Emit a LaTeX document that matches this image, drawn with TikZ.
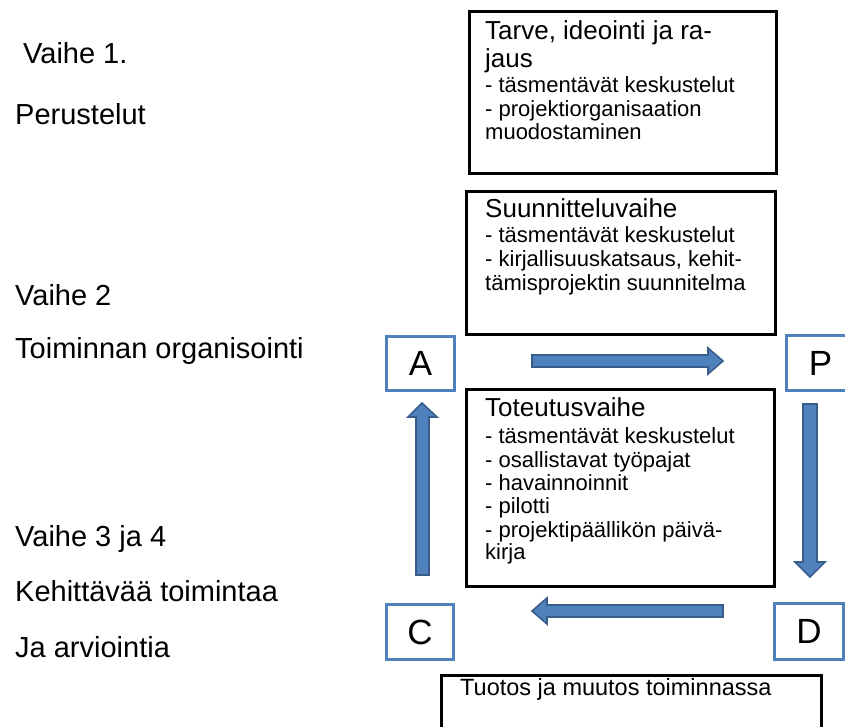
\documentclass[tikz,border=0pt]{standalone}
\usepackage{fontspec}
\setmainfont{Liberation Sans}
\definecolor{pdcablue}{HTML}{4F81BD}
\definecolor{pdcadark}{HTML}{385D8A}
\tikzset{
  side/.style={anchor=base west, inner sep=0pt, font=\fontsize{29}{31}\selectfont},
  head/.style={anchor=base west, inner sep=0pt, font=\fontsize{26}{28}\selectfont},
  body/.style={anchor=base west, inner sep=0pt, font=\fontsize{22}{24}\selectfont},
  phasebox/.style={draw=black, line width=3pt, anchor=north west, inner sep=0pt},
  letterbox/.style={draw=pdcablue, line width=3pt, anchor=north west, inner sep=0pt,
                    font=\fontsize{35}{37}\selectfont},
  blockarrow/.style={fill=pdcablue, draw=pdcadark, line width=1.6pt, line join=miter},
}
\begin{document}
\begin{tikzpicture}[x=1pt, y=-1pt]
\useasboundingbox (0,0) rectangle (845,727);
\clip (0,0) rectangle (845,727);

% phase labels on the left
\node[side] (v1)  at (23,64)  {Vaihe 1.};
\node[side] (v1b) at (15,125) {Perustelut};
\node[side] (v2)  at (15,305) {Vaihe 2};
\node[side] (v2b) at (15,358) {Toiminnan organisointi};
\node[side] (v3)  at (15,546) {Vaihe 3 ja 4};
\node[side] (v3b) at (15,601) {Kehittävää toimintaa};
\node[side] (v3c) at (15,657) {Ja arviointia};

% phase boxes
\node[phasebox, minimum width=307pt, minimum height=162pt] (box1) at (468,10)  {};
\node[phasebox, minimum width=309pt, minimum height=143pt] (box2) at (465,190) {};
\node[phasebox, minimum width=308pt, minimum height=197pt] (box3) at (465,388) {};
\node[phasebox, minimum width=380pt, minimum height=80pt]  (box4) at (440,674) {};

\node[head] (t1a) at (485,40)  {Tarve, ideointi ja ra-};
\node[head] (t1b) at (485,68)  {jaus};
\node[body] (t1c) at (485,93)  {- täsmentävät keskustelut};
\node[body] (t1d) at (485,117) {- projektiorganisaation};
\node[body] (t1e) at (485,140) {muodostaminen};

\node[head] (t2a) at (485,218) {Suunnitteluvaihe};
\node[body] (t2b) at (485,243) {- täsmentävät keskustelut};
\node[body] (t2c) at (485,266) {- kirjallisuuskatsaus, kehit-};
\node[body] (t2d) at (485,290) {tämisprojektin suunnitelma};

\node[head] (t3a) at (485,416) {Toteutusvaihe};
\node[body] (t3b) at (485,443) {- täsmentävät keskustelut};
\node[body] (t3c) at (485,467) {- osallistavat työpajat};
\node[body] (t3d) at (485,490) {- havainnoinnit};
\node[body] (t3e) at (485,513) {- pilotti};
\node[body] (t3f) at (485,537) {- projektipäällikön päivä-};
\node[body] (t3g) at (485,559) {kirja};

\node[font=\fontsize{23.5}{26}\selectfont, anchor=base west, inner sep=0pt] (t4) at (460,695) {Tuotos ja muutos toiminnassa};

% PDCA letter boxes
\node[letterbox, minimum width=68pt, minimum height=54pt] (A) at (385,335) {A};
\node[letterbox, minimum width=68pt, minimum height=55pt] (P) at (785,334) {P};
\node[letterbox, minimum width=67pt, minimum height=55pt] (C) at (385,603) {C};
\node[letterbox, minimum width=69pt, minimum height=56pt] (D) at (773,602) {D};

% block arrows of the cycle
% A -> P
\draw[blockarrow] (532,355) -- (708,355) -- (708,348) -- (723,361) -- (708,374) -- (708,367) -- (532,367) -- cycle;
% P -> D
\draw[blockarrow] (803,404) -- (817,404) -- (817,562) -- (825,562) -- (810,577) -- (795,562) -- (803,562) -- cycle;
% D -> C
\draw[blockarrow] (723,605) -- (547,605) -- (547,598) -- (532,611) -- (547,624) -- (547,617) -- (723,617) -- cycle;
% C -> A
\draw[blockarrow] (416,575) -- (416,417) -- (408,417) -- (422,403) -- (437,417) -- (429,417) -- (429,575) -- cycle;
\end{tikzpicture}
\end{document}
